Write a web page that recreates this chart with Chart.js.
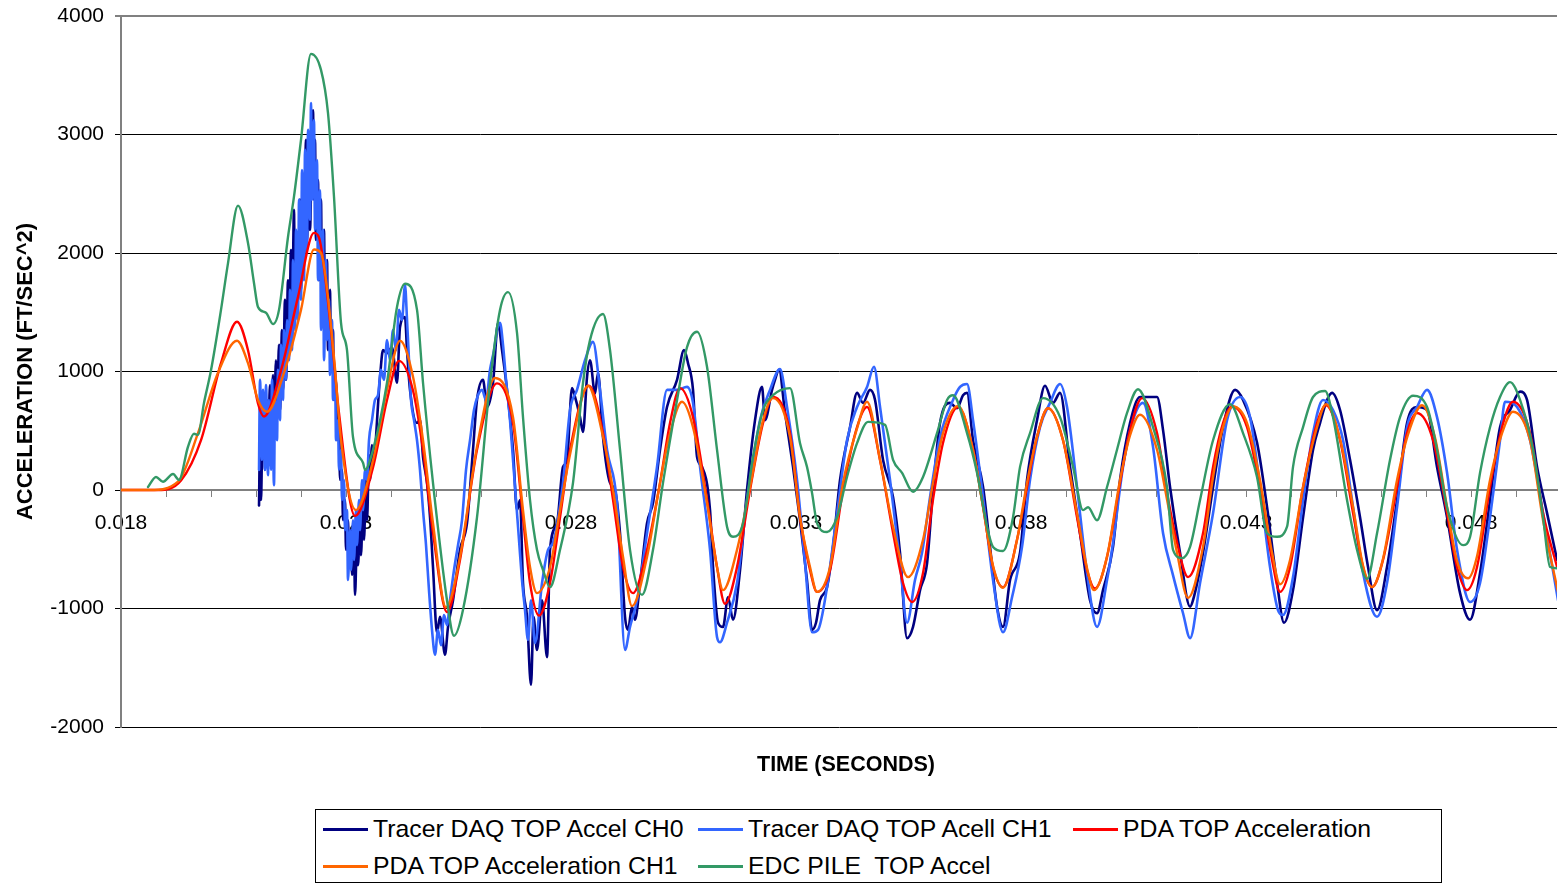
<!DOCTYPE html>
<html>
<head>
<meta charset="utf-8">
<title>Top acceleration vs time</title>
<script src="https://cdn.jsdelivr.net/npm/chart.js@4.4.1/dist/chart.umd.min.js"></script>
<style>
  html, body { margin: 0; padding: 0; background: #fff; }
  #wrap { position: relative; width: 1558px; height: 883px; overflow: hidden;
          font-family: "Liberation Sans", Arial, Helvetica, sans-serif; color: #000; }
  #chart { position: absolute; left: 0; top: 0; }
  #xtitle { position: absolute; left: 757px; top: 752px; line-height: 24px;
            font-size: 21.5px; font-weight: bold; white-space: nowrap; }
  #legend { position: absolute; left: 315px; top: 809px; width: 1127px; height: 74px;
            box-sizing: border-box; border: 1px solid #000; background: #fff; }
  .item { position: absolute; height: 28px; display: flex; align-items: center; white-space: pre; }
  .swatch { width: 45px; height: 3px; margin-right: 5px; }
  .label { font-size: 24.8px; line-height: 28px; }
</style>
</head>
<body>
<div id="wrap">
  <canvas id="chart" width="1558" height="883"></canvas>
  <div id="xtitle"></div>
  <div id="legend"></div>
</div>
<script>
// ---- Series: [time (s), acceleration (ft/s^2)] ----
const tracerCh0 = [
  [0.021067,-130],[0.021089,420],[0.021111,-85],[0.021133,295],[0.021178,715],[0.021200,170],
  [0.021244,760],[0.021267,340],[0.021311,885],[0.021333,420],[0.021378,970],[0.021400,505],
  [0.021444,1095],[0.021467,590],[0.021511,1225],[0.021533,675],[0.021578,1350],[0.021600,845],
  [0.021644,1605],[0.021667,930],[0.021711,1770],[0.021733,1180],[0.021778,2025],[0.021800,1265],
  [0.021844,2365],[0.021867,1435],[0.021911,2110],[0.021933,1605],[0.021978,2450],[0.022000,1690],
  [0.022044,2615],[0.022067,1940],[0.022111,2955],[0.022133,2110],[0.022178,2785],[0.022200,2195],
  [0.022244,3040],[0.022267,3205],[0.022289,2450],[0.022311,2955],[0.022333,2110],[0.022378,2615],
  [0.022400,1770],[0.022444,2450],[0.022467,1605],[0.022511,2195],[0.022533,1435],[0.022578,1940],
  [0.022600,1180],[0.022644,1690],[0.022667,1015],[0.022711,1350],[0.022733,760],[0.022778,930],
  [0.022800,420],[0.022844,590],[0.022867,85],[0.022911,170],[0.022933,-255],[0.022978,-85],
  [0.023000,-505],[0.023044,-255],[0.023067,-590],[0.023111,-335],[0.023133,-715],[0.023178,-465],
  [0.023200,-885],[0.023244,-420],[0.023267,-635],[0.023311,-255],[0.023333,-550],[0.023378,-85],
  [0.023400,-420],[0.023444,85],[0.023467,-255],[0.023511,295],[0.023533,85],[0.023578,380],
  [0.023600,230],[0.023756,955],[0.023822,1180],[0.023911,1155],[0.024022,1205],[0.024133,905],
  [0.024200,1375],[0.024311,1460],[0.024356,1180],[0.024422,845],[0.024578,565],[0.024644,590],
  [0.024711,280],[0.024800,60],[0.024867,-230],[0.024933,-650],[0.025022,-1205],[0.025089,-1070],
  [0.025200,-1390],[0.025267,-1155],[0.025378,-930],[0.025533,-505],[0.025689,-280],[0.025822,340],
  [0.025911,760],[0.026044,930],[0.026133,700],[0.026267,905],[0.026378,1410],[0.026467,1180],
  [0.026578,845],[0.026711,340],[0.026800,-170],[0.026867,-85],[0.026933,-785],[0.027022,-1070],
  [0.027111,-1645],[0.027167,-1070],[0.027244,-1350],[0.027356,-930],[0.027467,-1410],[0.027533,-505],
  [0.027689,-280],[0.027822,195],[0.027911,250],[0.028022,860],[0.028089,785],[0.028200,615],
  [0.028267,490],[0.028356,955],[0.028422,1095],[0.028533,815],[0.028600,990],[0.028711,445],
  [0.028867,60],[0.028978,0],[0.029089,-365],[0.029200,-1070],[0.029267,-1180],[0.029356,-985],
  [0.029422,-1095],[0.029533,-785],[0.029689,-280],[0.029822,-110],[0.029978,340],[0.030133,700],
  [0.030356,930],[0.030511,1180],[0.030600,1070],[0.030711,845],[0.030800,280],[0.030911,195],
  [0.031089,-170],[0.031156,-650],[0.031267,-1120],[0.031378,-1155],[0.031489,-905],[0.031600,-1095],
  [0.031756,-675],[0.031911,0],[0.032089,590],[0.032244,870],[0.032311,590],[0.032467,845],
  [0.032533,930],[0.032622,1015],[0.032756,650],[0.032933,195],[0.033089,-255],[0.033244,-760],
  [0.033356,-1180],[0.033444,-1120],[0.033533,-930],[0.033689,-820],[0.033822,-480],[0.033978,85],
  [0.034200,530],[0.034356,820],[0.034489,735],[0.034644,845],[0.034756,760],[0.034933,255],
  [0.035156,-60],[0.035311,-530],[0.035467,-1250],[0.035600,-1155],[0.035756,-845],[0.035911,-620],
  [0.036044,0],[0.036200,565],[0.036422,735],[0.036578,690],[0.036711,800],[0.036800,820],
  [0.036933,420],[0.037156,25],[0.037311,-480],[0.037467,-985],[0.037600,-1155],[0.037756,-760],
  [0.037978,-530],[0.038133,85],[0.038356,590],[0.038533,880],[0.038711,735],[0.038867,820],
  [0.039089,195],[0.039311,-365],[0.039533,-930],[0.039689,-1040],[0.039822,-845],[0.040044,-480],
  [0.040200,85],[0.040422,565],[0.040644,785],[0.040867,785],[0.041022,785],[0.041156,505],
  [0.041311,25],[0.041533,-530],[0.041756,-985],[0.041822,-930],[0.042044,-530],[0.042267,25],
  [0.042489,530],[0.042756,845],[0.042933,760],[0.043244,400],[0.043467,-145],[0.043689,-785],
  [0.043844,-1120],[0.044044,-845],[0.044267,-230],[0.044489,340],[0.044644,565],[0.044800,760],
  [0.044911,820],[0.045089,675],[0.045311,255],[0.045533,-230],[0.045711,-650],[0.045911,-1015],
  [0.046133,-650],[0.046356,-85],[0.046578,565],[0.046800,700],[0.047022,675],[0.047244,195],
  [0.047467,-230],[0.047756,-870],[0.047978,-1095],[0.048200,-700],[0.048422,-85],[0.048644,530],
  [0.048867,675],[0.049089,830],[0.049244,760],[0.049467,195],[0.049689,-195],[0.049911,-590]
];

const tracerCh1 = [
  [0.021067,170],[0.021089,930],[0.021133,255],[0.021156,845],[0.021200,170],[0.021222,885],
  [0.021267,125],[0.021289,760],[0.021333,170],[0.021356,930],[0.021400,40],[0.021422,760],
  [0.021467,420],[0.021489,1015],[0.021533,590],[0.021556,1225],[0.021600,760],[0.021622,1350],
  [0.021667,930],[0.021689,1435],[0.021733,1095],[0.021756,1690],[0.021800,1180],[0.021822,1940],
  [0.021867,1350],[0.021889,2195],[0.021933,1435],[0.021956,2450],[0.022000,1605],[0.022022,2700],
  [0.022067,1770],[0.022089,2870],[0.022133,2025],[0.022156,3040],[0.022200,2280],[0.022222,3265],
  [0.022244,2450],[0.022289,3120],[0.022311,2195],[0.022356,2785],[0.022378,1770],[0.022422,2530],
  [0.022444,1350],[0.022489,2195],[0.022511,1095],[0.022556,1940],[0.022578,1265],[0.022622,1605],
  [0.022644,970],[0.022689,1435],[0.022711,760],[0.022756,1015],[0.022778,420],[0.022822,590],
  [0.022844,170],[0.022889,340],[0.022911,-85],[0.022956,85],[0.022978,-340],[0.023022,-170],
  [0.023044,-760],[0.023089,-340],[0.023111,-675],[0.023156,-255],[0.023178,-590],[0.023222,-170],
  [0.023244,-465],[0.023289,-85],[0.023311,-340],[0.023356,85],[0.023378,-170],[0.023422,170],
  [0.023467,85],[0.023511,420],[0.023578,590],[0.023644,760],[0.023711,800],[0.023778,1015],
  [0.023844,930],[0.023911,1265],[0.023978,1095],[0.024044,1350],[0.024111,1180],[0.024178,1520],
  [0.024244,1435],[0.024311,1730],[0.024356,1435],[0.024400,1095],[0.024444,760],[0.024511,590],
  [0.024578,420],[0.024644,170],[0.024711,-170],[0.024778,-465],[0.024844,-845],[0.024911,-1180],
  [0.024978,-1390],[0.025044,-1180],[0.025111,-1310],[0.025178,-1055],[0.025244,-1140],[0.025311,-930],
  [0.025400,-675],[0.025489,-465],[0.025578,-255],[0.025667,170],[0.025756,420],[0.025844,675],
  [0.025933,800],[0.026022,845],[0.026111,760],[0.026200,1015],[0.026289,1180],[0.026356,1350],
  [0.026422,1410],[0.026489,1225],[0.026556,930],[0.026644,590],[0.026711,255],[0.026778,-85],
  [0.026844,-420],[0.026911,-760],[0.026978,-1015],[0.027044,-1265],[0.027111,-930],[0.027200,-1290],
  [0.027356,-785],[0.027489,-505],[0.027600,-445],[0.027822,60],[0.027978,675],[0.028133,845],
  [0.028311,1095],[0.028489,1250],[0.028644,845],[0.028800,340],[0.029022,-110],[0.029200,-1350],
  [0.029311,-1155],[0.029467,-930],[0.029689,-365],[0.029911,195],[0.030133,845],[0.030356,845],
  [0.030578,870],[0.030711,735],[0.030867,195],[0.031089,-505],[0.031244,-1240],[0.031311,-1285],
  [0.031467,-1120],[0.031689,-785],[0.031911,-85],[0.031978,85],[0.032200,590],[0.032422,845],
  [0.032644,1020],[0.032800,700],[0.033022,85],[0.033200,-615],[0.033356,-1200],[0.033489,-1180],
  [0.033689,-820],[0.033911,-195],[0.034133,420],[0.034356,700],[0.034578,870],[0.034733,1040],
  [0.034867,700],[0.035089,85],[0.035311,-615],[0.035467,-1120],[0.035644,-760],[0.035800,-530],
  [0.035978,-60],[0.036200,445],[0.036489,760],[0.036644,870],[0.036800,895],[0.036933,590],
  [0.037156,-60],[0.037378,-760],[0.037600,-1200],[0.037800,-905],[0.038022,-480],[0.038200,85],
  [0.038422,530],[0.038644,735],[0.038867,895],[0.039022,700],[0.039244,25],[0.039467,-700],
  [0.039689,-1155],[0.039911,-760],[0.040044,-445],[0.040267,195],[0.040489,590],[0.040711,735],
  [0.040933,365],[0.041156,-365],[0.041378,-720],[0.041600,-1040],[0.041756,-1250],[0.041978,-785],
  [0.042267,-195],[0.042578,590],[0.042867,785],[0.043089,615],[0.043311,25],[0.043533,-650],
  [0.043711,-1015],[0.043822,-1055],[0.044044,-735],[0.044267,-85],[0.044489,480],[0.044711,760],
  [0.044933,675],[0.045156,420],[0.045378,-145],[0.045600,-700],[0.045911,-1070],[0.046133,-785],
  [0.046356,-145],[0.046578,530],[0.046800,700],[0.047022,845],[0.047244,615],[0.047467,145],
  [0.047689,-505],[0.047978,-945],[0.048200,-785],[0.048422,-230],[0.048644,420],[0.048756,745],
  [0.049022,700],[0.049311,420],[0.049600,-195],[0.049933,-930]
];

const pdaTop = [
  [0.018000,0],[0.018822,0],[0.019333,80],[0.019778,420],[0.020222,1070],[0.020578,1420],
  [0.020822,1180],[0.021044,730],[0.021178,620],[0.021556,1010],[0.021933,1630],[0.022289,2170],
  [0.022400,2130],[0.022667,1350],[0.022844,650],[0.023200,-220],[0.023600,190],[0.023911,760],
  [0.024178,1090],[0.024489,840],[0.024711,340],[0.024933,-360],[0.025244,-1030],[0.025533,-590],
  [0.025911,340],[0.026356,900],[0.026711,565],[0.026933,-230],[0.027089,-785],[0.027289,-1060],
  [0.027533,-785],[0.027756,-230],[0.027978,340],[0.028400,880],[0.028711,480],[0.028933,-80],
  [0.029156,-650],[0.029378,-870],[0.029689,-505],[0.029978,60],[0.030200,565],[0.030422,860],
  [0.030711,615],[0.031022,-80],[0.031244,-650],[0.031422,-960],[0.031689,-650],[0.031978,0],
  [0.032267,565],[0.032489,785],[0.032867,480],[0.033089,-230],[0.033311,-675],[0.033467,-860],
  [0.033756,-675],[0.034044,0],[0.034356,530],[0.034578,700],[0.034867,250],[0.035156,-360],
  [0.035378,-785],[0.035578,-945],[0.035822,-700],[0.036044,-80],[0.036267,400],[0.036600,700],
  [0.036933,340],[0.037156,-140],[0.037378,-650],[0.037600,-820],[0.037911,-420],[0.038133,25],
  [0.038356,450],[0.038600,690],[0.038933,420],[0.039244,-230],[0.039467,-675],[0.039644,-830],
  [0.039911,-565],[0.040200,60],[0.040422,505],[0.040689,775],[0.041022,480],[0.041244,-25],
  [0.041467,-445],[0.041711,-735],[0.042044,-365],[0.042267,195],[0.042489,565],[0.042689,705],
  [0.043022,530],[0.043311,10],[0.043578,-590],[0.043756,-860],[0.043978,-650],[0.044267,25],
  [0.044578,565],[0.044778,715],[0.045089,420],[0.045378,-195],[0.045600,-650],[0.045800,-820],
  [0.046044,-590],[0.046356,25],[0.046578,480],[0.046800,650],[0.047156,420],[0.047467,-195],
  [0.047689,-650],[0.047911,-845],[0.048133,-650],[0.048422,25],[0.048689,530],[0.048933,745],
  [0.049311,480],[0.049600,-195],[0.049911,-650]
];

const pdaTopCh1 = [
  [0.018000,0],[0.018644,0],[0.019267,70],[0.019711,480],[0.020156,990],[0.020578,1260],
  [0.020822,1070],[0.021044,760],[0.021244,660],[0.021622,990],[0.022000,1520],[0.022289,2030],
  [0.022444,2000],[0.022733,1120],[0.022889,420],[0.023222,-170],[0.023600,250],[0.023911,845],
  [0.024200,1260],[0.024489,955],[0.024711,420],[0.024933,-280],[0.025222,-990],[0.025533,-565],
  [0.025911,365],[0.026311,945],[0.026711,615],[0.026933,-170],[0.027089,-650],[0.027244,-870],
  [0.027533,-650],[0.027756,-170],[0.027978,300],[0.028378,880],[0.028711,450],[0.028933,0],
  [0.029156,-565],[0.029356,-980],[0.029689,-565],[0.029978,60],[0.030200,480],[0.030467,745],
  [0.030711,530],[0.031022,-110],[0.031244,-650],[0.031378,-845],[0.031689,-505],[0.031978,25],
  [0.032267,590],[0.032489,775],[0.032867,445],[0.033089,-230],[0.033311,-650],[0.033467,-860],
  [0.033756,-650],[0.034044,60],[0.034356,520],[0.034578,745],[0.034867,255],[0.035156,-310],
  [0.035489,-735],[0.035822,-420],[0.036044,60],[0.036267,480],[0.036600,710],[0.036933,340],
  [0.037156,-145],[0.037378,-640],[0.037600,-825],[0.037911,-420],[0.038133,60],[0.038356,450],
  [0.038600,690],[0.038933,420],[0.039244,-195],[0.039467,-660],[0.039622,-845],[0.039911,-560],
  [0.040200,85],[0.040422,460],[0.040644,635],[0.041022,340],[0.041244,-80],[0.041467,-530],
  [0.041711,-910],[0.042044,-480],[0.042267,110],[0.042489,530],[0.042711,705],[0.043022,565],
  [0.043311,85],[0.043578,-530],[0.043756,-795],[0.043978,-590],[0.044267,25],[0.044578,530],
  [0.044778,725],[0.045089,430],[0.045378,-145],[0.045600,-640],[0.045800,-820],[0.046044,-580],
  [0.046356,85],[0.046600,470],[0.046911,715],[0.047200,440],[0.047467,-145],[0.047689,-600],
  [0.047933,-745],[0.048133,-560],[0.048422,85],[0.048689,480],[0.048933,660],[0.049311,420],
  [0.049600,-255],[0.049933,-860]
];

const edcPileTop = [
  [0.018600,25],[0.018778,110],[0.018933,70],[0.019156,135],[0.019289,85],[0.019489,365],
  [0.019622,475],[0.019711,465],[0.019844,735],[0.020000,1010],[0.020222,1520],[0.020378,1915],
  [0.020600,2400],[0.020822,2085],[0.020956,1745],[0.021044,1545],[0.021222,1495],[0.021378,1400],
  [0.021511,1520],[0.021711,2135],[0.021844,2475],[0.022000,2955],[0.022222,3680],[0.022444,3545],
  [0.022600,3180],[0.022733,2475],[0.022889,1410],[0.023022,1180],[0.023156,445],[0.023378,230],
  [0.023422,170],[0.023600,340],[0.023911,905],[0.024133,1545],[0.024311,1740],[0.024578,1520],
  [0.024711,905],[0.024933,60],[0.025244,-930],[0.025400,-1230],[0.025600,-1010],[0.025911,-230],
  [0.026200,905],[0.026422,1520],[0.026600,1670],[0.026800,1325],[0.026933,615],[0.027089,-85],
  [0.027244,-505],[0.027378,-675],[0.027533,-820],[0.027756,-505],[0.028044,60],[0.028267,905],
  [0.028422,1265],[0.028711,1485],[0.028867,1180],[0.029089,340],[0.029311,-505],[0.029578,-885],
  [0.029822,-505],[0.030044,60],[0.030356,760],[0.030578,1205],[0.030800,1335],[0.031022,1040],
  [0.031244,340],[0.031467,-310],[0.031600,-395],[0.031822,-280],[0.032044,280],[0.032267,675],
  [0.032489,800],[0.032867,860],[0.033089,395],[0.033244,195],[0.033356,-25],[0.033467,-280],
  [0.033689,-355],[0.033911,-230],[0.034133,110],[0.034356,395],[0.034600,575],[0.034978,550],
  [0.035156,255],[0.035356,145],[0.035600,-15],[0.035822,110],[0.036133,480],[0.036356,760],
  [0.036489,800],[0.036800,480],[0.037022,145],[0.037244,-310],[0.037378,-480],[0.037600,-515],
  [0.037822,-230],[0.037978,195],[0.038200,480],[0.038489,775],[0.038867,615],[0.039156,195],
  [0.039378,-170],[0.039489,-145],[0.039689,-255],[0.039911,25],[0.040133,340],[0.040356,650],
  [0.040600,850],[0.040933,530],[0.041244,25],[0.041378,-505],[0.041578,-575],[0.041756,-480],
  [0.041978,-85],[0.042267,420],[0.042644,725],[0.042933,480],[0.043244,110],[0.043467,-365],
  [0.043689,-395],[0.043911,-310],[0.044044,195],[0.044267,530],[0.044489,785],[0.044756,835],
  [0.044933,615],[0.045244,-85],[0.045467,-505],[0.045689,-750],[0.045911,-365],[0.046200,255],
  [0.046422,615],[0.046711,795],[0.047022,700],[0.047244,340],[0.047467,-145],[0.047822,-465],
  [0.047978,-395],[0.048200,145],[0.048422,530],[0.048644,785],[0.048867,910],[0.049089,760],
  [0.049378,340],[0.049600,-230],[0.049756,-650],[0.049933,-660]
];

// ---- Axis labels and ticks ----
const seriesNames = [
  'Tracer DAQ TOP Accel CH0',
  'Tracer DAQ TOP Acell CH1',
  'PDA TOP Acceleration',
  'PDA TOP Acceleration CH1',
  'EDC PILE  TOP Accel'
];
const xTitle = 'TIME (SECONDS)';
const yTitle = 'ACCELERATION (FT/SEC^2)';
const xLabelTicks = [0.018, 0.023, 0.028, 0.033, 0.038, 0.043, 0.048];
const xMinorStep = 0.001;
const xRange = [0.018, 0.04991];
const yTicks = [-2000, -1000, 0, 1000, 2000, 3000, 4000];

// ---- Styling ----
const FONT = '"Liberation Sans", Arial, Helvetica, sans-serif';
const seriesStyle = [
  { color: '#000080', width: 2.6, order: 5 },
  { color: '#3366FF', width: 2.6, order: 4 },
  { color: '#FF0000', width: 2.4, order: 3 },
  { color: '#FF6600', width: 2.4, order: 2 },
  { color: '#339966', width: 2.4, order: 1 }
];
const allSeries = [tracerCh0, tracerCh1, pdaTop, pdaTopCh1, edcPileTop];

const datasets = allSeries.map((s, i) => ({
  label: seriesNames[i],
  data: s.map(p => ({ x: p[0], y: p[1] })),
  borderColor: seriesStyle[i].color,
  backgroundColor: seriesStyle[i].color,
  borderWidth: seriesStyle[i].width,
  order: seriesStyle[i].order,
  pointRadius: 0,
  pointHoverRadius: 0,
  fill: false,
  cubicInterpolationMode: 'monotone',
  borderJoinStyle: 'round',
  borderCapStyle: 'round'
}));

const isLabelled = v => xLabelTicks.some(t => Math.abs(t - v) < 1e-7);

new Chart(document.getElementById('chart'), {
  type: 'line',
  data: { datasets },
  options: {
    responsive: false,
    animation: false,
    devicePixelRatio: 1,
    events: [],
    layout: { padding: { left: 0, right: 1, top: 16, bottom: 156 } },
    plugins: { legend: { display: false }, tooltip: { enabled: false }, title: { display: false } },
    scales: {
      x: {
        type: 'linear',
        min: xRange[0],
        max: xRange[1],
        position: { y: 0 },
        afterBuildTicks: scale => {
          const ticks = [];
          for (let v = xRange[0]; v <= xRange[1] + 1e-9; v += xMinorStep) {
            ticks.push({ value: Math.round(v * 1e6) / 1e6 });
          }
          scale.ticks = ticks;
        },
        afterFit: scale => { scale.paddingTop = 0; scale.paddingBottom = 0; },
        ticks: {
          autoSkip: false,
          maxRotation: 0,
          minRotation: 0,
          padding: 15,
          color: '#000',
          font: { family: FONT, size: 21 },
          callback: v => (isLabelled(v) ? v.toFixed(3) : '')
        },
        grid: { display: true, drawOnChartArea: false, drawTicks: true, tickLength: 6, color: '#808080', lineWidth: 1 },
        border: { display: true, color: '#808080', width: 2 }
      },
      y: {
        type: 'linear',
        min: yTicks[0],
        max: yTicks[yTicks.length - 1],
        position: 'left',
        afterBuildTicks: scale => { scale.ticks = yTicks.map(v => ({ value: v })); },
        afterFit: scale => {
          scale.width = 121;
          scale.paddingTop = 0;
          scale.paddingBottom = 0;
        },
        ticks: {
          padding: 11,
          color: '#000',
          font: { family: FONT, size: 21 },
          callback: v => String(v)
        },
        grid: {
          drawTicks: true,
          tickLength: 6,
          color: ctx => (ctx.tick && ctx.tick.value === 4000 ? '#808080' : '#000'),
          lineWidth: ctx => (ctx.tick && ctx.tick.value === 4000 ? 2 : 1)
        },
        border: { display: true, color: '#808080', width: 2 },
        title: {
          display: true,
          text: yTitle,
          color: '#000',
          font: { family: FONT, size: 22, weight: 'bold' },
          padding: { top: 13, bottom: 0 }
        }
      }
    }
  }
});

// ---- Axis title and legend (HTML text) ----
document.getElementById('xtitle').textContent = xTitle;

const legendSlots = [
  { left: 7,   top: 5 },
  { left: 382, top: 5 },
  { left: 757, top: 5 },
  { left: 7,   top: 42 },
  { left: 382, top: 42 }
];
const legend = document.getElementById('legend');
seriesNames.forEach((name, i) => {
  const item = document.createElement('div');
  item.className = 'item';
  item.style.left = legendSlots[i].left + 'px';
  item.style.top = legendSlots[i].top + 'px';
  const sw = document.createElement('div');
  sw.className = 'swatch';
  sw.style.background = seriesStyle[i].color;
  const lab = document.createElement('span');
  lab.className = 'label';
  lab.textContent = name;
  item.appendChild(sw);
  item.appendChild(lab);
  legend.appendChild(item);
});
</script>
</body>
</html>
